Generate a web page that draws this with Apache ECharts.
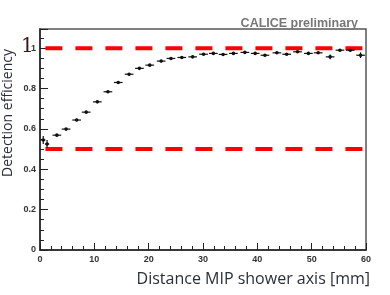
<!DOCTYPE html>
<html><head><meta charset="utf-8">
<script src="https://cdn.jsdelivr.net/npm/echarts@6/dist/echarts.min.js"></script>
<style>html,body{margin:0;padding:0;background:#fff}#c{width:390px;height:295px}</style>
</head><body><div id="c"></div>
<script>
const distance = [0.6, 1.3, 3.1, 4.8, 6.75, 8.5, 10.55, 12.5, 14.4, 16.4, 18.3, 20.2, 22.3, 24.1, 26.1, 28.1, 30.1, 31.9, 33.7, 35.6, 37.7, 39.6, 41.4, 43.6, 45.4, 47.4, 49.4, 51.2, 53.4, 55.2, 57.1, 59.0];
const efficiency = [0.545, 0.525, 0.569, 0.599, 0.644, 0.683, 0.734, 0.784, 0.830, 0.871, 0.900, 0.916, 0.936, 0.949, 0.954, 0.957, 0.970, 0.974, 0.969, 0.974, 0.979, 0.974, 0.965, 0.977, 0.970, 0.982, 0.974, 0.977, 0.957, 0.990, 0.990, 0.965];
const xErr = [0.4, 0.4, 0.8, 0.8, 0.8, 0.8, 0.8, 0.8, 0.8, 0.8, 0.8, 0.8, 0.8, 0.8, 0.8, 0.8, 0.8, 0.8, 0.8, 0.8, 0.8, 0.8, 0.8, 0.8, 0.8, 0.8, 0.8, 0.8, 0.8, 0.8, 0.8, 0.8];
const yErr = [0.02, 0.02, 0.006, 0.006, 0.006, 0.006, 0.006, 0.006, 0.006, 0.006, 0.006, 0.005, 0.005, 0.005, 0.005, 0.005, 0.005, 0.005, 0.005, 0.005, 0.005, 0.005, 0.005, 0.005, 0.005, 0.005, 0.005, 0.005, 0.012, 0.005, 0.005, 0.014];
const refLevels = [1.0, 0.5];
const refRange = [1, 60];
const yTicks = ['0', '0.2', '0.4', '0.6', '0.8', '1'];

const chart = echarts.init(document.getElementById('c'));
const pts = distance.map((x, i) => [x, efficiency[i], xErr[i], yErr[i]]);
const refSeries = refLevels.map(lv => ({
  type: 'line', data: [[refRange[0], lv], [refRange[1], lv]], symbol: 'none', silent: true,
  lineStyle: { color: '#ff0000', width: 4, type: [17, 13] }, z: 3
}));
chart.setOption({
  animation: false,
  grid: { left: 40, right: 24, top: 29, bottom: 45, show: true, borderColor: '#555', borderWidth: 1.5, backgroundColor: '#fff' },
  title: { text: 'CALICE preliminary', right: 27, top: 12, textStyle: { fontFamily: 'Liberation Sans', fontSize: 12.5, fontWeight: 'bold', color: '#777' } },
  xAxis: {
    type: 'value', min: 0, max: 60, interval: 10,
    axisLine: { onZero: false, lineStyle: { color: '#222', width: 1.5 } },
    axisTick: { inside: true, length: 7, lineStyle: { color: '#222' } },
    minorTick: { show: true, splitNumber: 5, length: 4, lineStyle: { color: '#222' } },
    axisLabel: { fontFamily: 'Liberation Sans', fontSize: 9, fontWeight: 'bold', color: '#333', margin: 5 },
    splitLine: { show: false }
  },
  yAxis: {
    type: 'value', min: 0, max: 1.095, interval: 0.2,
    axisLine: { onZero: false, lineStyle: { color: '#222', width: 1.5 } },
    axisTick: { inside: true, length: 8, lineStyle: { color: '#222' } },
    minorTick: { show: true, splitNumber: 4, length: 4, lineStyle: { color: '#222' } },
    axisLabel: { fontFamily: 'Liberation Sans', fontSize: 9, fontWeight: 'bold', color: '#333', margin: 4,
      formatter: v => { const i = Math.round(v / 0.2); return Math.abs(v - i * 0.2) < 1e-6 && yTicks[i] ? yTicks[i] : ''; } },
    splitLine: { show: false }
  },
  graphic: [
    { type: 'text', left: 21, top: 37, style: { text: '1', fontFamily: 'DejaVu Serif', fontSize: 20, fill: '#3a1818' } },
    { type: 'text', x: 8.5, y: 113, rotation: Math.PI / 2, style: { text: 'Detection efficiency', fontFamily: 'Open Sans', fontSize: 14, fill: '#2b2f3a', textAlign: 'center', textVerticalAlign: 'middle' } },
    { type: 'text', x: 370, y: 279, style: { text: 'Distance MIP shower axis [mm]', fontFamily: 'Open Sans', fontSize: 16, fill: '#2b2f3a', textAlign: 'right', textVerticalAlign: 'middle' } }
  ],
  series: refSeries.concat([{
    type: 'custom', data: pts, z: 4,
    renderItem: (params, api) => {
      const x = api.value(0), y = api.value(1), ex = api.value(2), ey = api.value(3);
      const c = api.coord([x, y]);
      const l = api.coord([x - ex, y]), r = api.coord([x + ex, y]);
      const t = api.coord([x, y + ey]), b = api.coord([x, y - ey]);
      const st = { stroke: '#111', lineWidth: 1.2 };
      return { type: 'group', children: [
        { type: 'line', shape: { x1: l[0], y1: l[1], x2: r[0], y2: r[1] }, style: st },
        { type: 'line', shape: { x1: t[0], y1: t[1], x2: b[0], y2: b[1] }, style: st },
        { type: 'circle', shape: { cx: c[0], cy: c[1], r: 1.8 }, style: { fill: '#111' } }
      ] };
    }
  }])
});
</script></body></html>
